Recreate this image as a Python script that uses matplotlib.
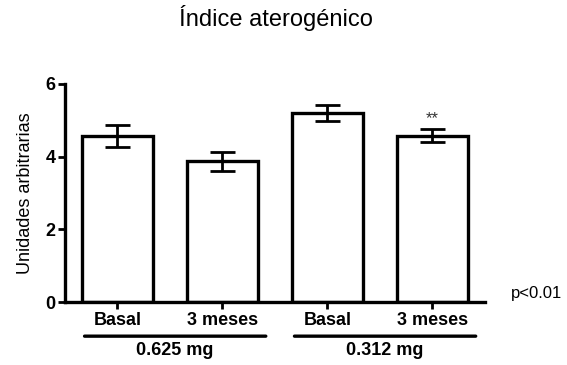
import matplotlib
matplotlib.use("Agg")
import matplotlib.pyplot as plt

categories = ["Basal", "3 meses", "Basal", "3 meses"]
values = [4.57, 3.87, 5.21, 4.58]
errors = [0.30, 0.26, 0.22, 0.17]
groups = ["0.625 mg", "0.312 mg"]
group_members = [[0, 1], [2, 3]]
yticks = [0, 2, 4, 6]

plt.rcParams['font.family'] = ['Liberation Sans', 'DejaVu Sans']

fig = plt.figure(figsize=(5.67, 3.65), dpi=100)
ax = fig.add_axes([0.1146, 0.1726, 0.7404, 0.5974])

x = list(range(len(values)))
ax.bar(x, values, width=0.68, color="white", edgecolor="black", linewidth=2.4, zorder=2)
ax.errorbar(x, values, yerr=errors, fmt="none", ecolor="black", elinewidth=2.0,
            capsize=9, capthick=2.0, zorder=3)

ax.set_xlim(-0.5, 3.5)
ax.set_ylim(0, 6)
ax.set_yticks(yticks)
ax.set_yticklabels([str(t) for t in yticks], fontweight="bold", fontsize=13)
ax.set_xticks(x)
ax.set_xticklabels(categories, fontweight="bold", fontsize=13)
ax.tick_params(axis="both", direction="out", width=2.0, length=5, pad=2)
ax.tick_params(axis="x", pad=2)
for s in ["top", "right"]:
    ax.spines[s].set_visible(False)
for s in ["left", "bottom"]:
    ax.spines[s].set_linewidth(2.4)

ax.set_ylabel("Unidades arbitrarias", fontsize=13, labelpad=8)

# significance
ax.text(3, values[3] + errors[3] + 0.1, "**", ha="center", va="bottom",
        fontsize=12, color="#333333")

# group lines and labels
for g, members in zip(groups, group_members):
    x0 = members[0] - 0.34
    x1 = members[-1] + 0.44
    ax.annotate("", xy=(x0, -0.94), xytext=(x1, -0.94), xycoords="data",
                arrowprops=dict(arrowstyle="-", lw=2.4, color="black"),
                annotation_clip=False)
    ax.text((x0 + x1) / 2, -1.1, g, ha="center", va="top", fontweight="bold",
            fontsize=13, clip_on=False)

fig.text(0.946, 0.197, "p<0.01", ha="center", va="center", fontsize=12)
fig.text(0.487, 0.95, "Índice aterogénico", ha="center", va="center", fontsize=17)

fig.savefig("out.png", dpi=100)
